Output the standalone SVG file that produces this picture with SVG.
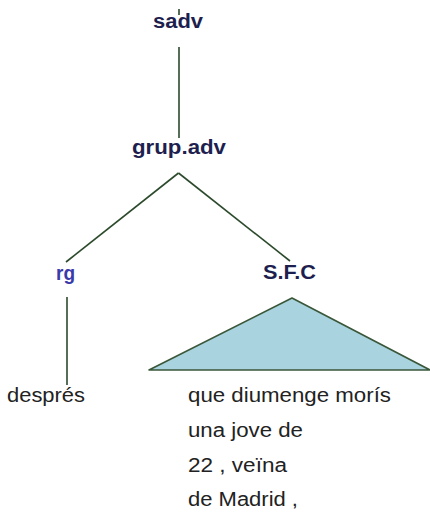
<svg xmlns="http://www.w3.org/2000/svg" width="430" height="513" viewBox="0 0 430 513">
<style>
.lbl{font-family:"Liberation Sans",Arial,sans-serif;font-weight:bold;font-size:20px;fill:#1e1f4f;text-anchor:start}
.blue{fill:#3a3aaa}
.leaf{font-family:"Liberation Sans",Arial,sans-serif;font-size:19.5px;fill:#222}
.edge{stroke:#2c4a2c;stroke-width:1.6;fill:none}
</style>
<rect width="430" height="513" fill="#fff"/>
<g id="connectors">
<line class="edge" x1="179" y1="9" x2="179" y2="15"/>
<line class="edge" x1="179" y1="47" x2="179" y2="138"/>
<line class="edge" x1="178.5" y1="173" x2="66" y2="262"/>
<line class="edge" x1="178.5" y1="173" x2="290" y2="261"/>
<line class="edge" x1="67" y1="297" x2="67" y2="385"/>
</g>
<g id="sadv"><text class="lbl" x="153" y="28" textLength="50" lengthAdjust="spacingAndGlyphs">sadv</text></g>
<g id="grup-adv"><text class="lbl" x="132" y="154" textLength="94" lengthAdjust="spacingAndGlyphs">grup.adv</text></g>
<g id="rg"><text class="lbl blue" x="56" y="280" textLength="19" lengthAdjust="spacingAndGlyphs">rg</text></g>
<g id="sfc"><text class="lbl" x="263" y="279" textLength="53" lengthAdjust="spacingAndGlyphs">S.F.C</text></g>
<g id="triangle"><polygon points="292,298 149,370 430,370" fill="#a9d3df" stroke="#3a573a" stroke-width="1.6" stroke-linejoin="round"/></g>
<g id="despres"><text class="leaf" x="7" y="402" textLength="78" lengthAdjust="spacingAndGlyphs">després</text></g>
<g id="sfc-text">
<text class="leaf" x="188" y="402" textLength="203" lengthAdjust="spacingAndGlyphs">que diumenge morís</text>
<text class="leaf" x="188" y="437" textLength="115" lengthAdjust="spacingAndGlyphs">una jove de</text>
<text class="leaf" x="188" y="472" textLength="99" lengthAdjust="spacingAndGlyphs">22 , veïna</text>
<text class="leaf" x="188" y="506" textLength="110" lengthAdjust="spacingAndGlyphs">de Madrid ,</text>
</g>
</svg>
